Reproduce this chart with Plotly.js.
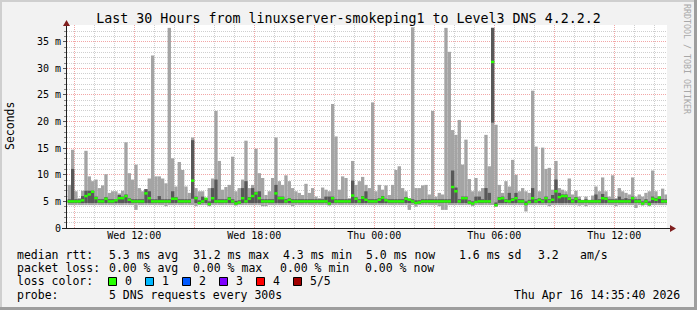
<!DOCTYPE html>
<html><head><meta charset="utf-8">
<script src="https://cdn.plot.ly/plotly-3.0.1.min.js"></script>
<style>html,body{margin:0;padding:0;background:#f2f2f2}#chart{width:697px;height:310px}</style>
</head><body><div id="chart"></div>
<script>
// ---- data (10-minute bins) ----
const binStartUTC = [2026, 3, 15, 8, 40];
const binMinutes = 10;
const pingMax = [
 8.1,14.7,6.9,5.6,7.0,14.5,9.7,8.8,9.1,7.5,
 8.0,10.1,6.6,6.9,6.9,6.5,7.0,16.1,10.3,9.1,
 11.9,7.5,6.9,7.3,9.3,32.4,9.7,9.7,9.3,8.4,
 37.6,13.1,7.8,12.4,10.9,7.8,6.6,17.0,7.5,6.9,
 6.9,5.6,7.5,9.3,22.0,12.6,7.2,7.7,8.1,13.4,
 6.9,7.5,9.1,16.4,7.5,8.1,14.9,10.3,9.4,6.2,
 6.9,9.4,17.0,8.8,8.1,9.9,8.8,7.5,6.9,6.6,
 6.2,8.3,6.6,7.5,5.9,5.6,7.6,7.2,6.9,23.3,
 17.2,7.2,9.7,9.4,5.6,12.6,8.1,8.8,9.6,8.1,
 7.5,23.6,6.9,8.1,7.2,8.0,6.2,8.1,10.9,11.6,
 7.5,6.9,5.6,37.7,7.5,7.5,8.0,8.1,6.3,22.0,
 5.9,6.6,6.3,37.6,33.1,18.4,17.5,20.3,11.9,16.6,
 9.2,6.9,9.4,6.9,7.5,17.5,11.6,37.6,19.4,8.1,
 6.6,8.8,7.8,12.8,10.0,6.9,7.5,6.9,6.6,25.8,
 15.3,6.9,15.1,11.1,11.3,7.2,12.6,7.5,7.2,6.9,
 9.3,6.3,7.0,5.9,5.3,5.9,5.3,6.1,7.8,6.9,
 9.5,6.9,5.9,9.9,5.6,7.5,6.9,6.6,6.3,9.5,
 5.9,6.3,5.9,6.6,6.9,10.8,6.9,5.9,7.4,6.3];
const pingHigh = [
 5.4,11.1,5.4,5.4,6.0,7.0,7.0,7.0,5.9,5.4,
 5.4,5.8,5.4,5.4,5.4,6.2,5.9,6.3,5.6,5.4,
 5.4,5.4,5.4,7.3,6.9,5.4,5.4,6.0,5.4,5.4,
 5.4,6.9,5.8,5.4,5.4,5.4,5.4,16.5,5.9,5.2,
 5.9,5.6,5.0,7.5,9.1,5.4,5.4,5.4,5.8,5.4,
 5.1,5.2,7.5,8.8,5.8,7.5,6.8,6.9,5.4,5.4,
 5.4,5.4,8.1,5.9,5.9,5.4,5.6,5.4,5.4,5.4,
 5.4,5.4,5.4,5.4,5.4,5.4,5.4,5.9,5.9,5.9,
 5.4,5.4,5.4,5.4,5.4,8.9,5.8,5.4,6.0,6.9,
 5.4,5.4,5.4,5.6,6.0,5.5,5.4,5.4,5.4,5.4,
 5.4,5.8,5.5,5.4,5.2,5.2,5.4,5.4,5.4,5.4,
 5.4,5.4,5.4,5.4,5.4,10.8,7.6,5.4,5.9,5.9,
 5.2,5.0,5.9,5.9,5.4,7.5,6.6,37.6,4.8,5.8,
 5.9,5.4,6.6,5.6,6.6,5.4,5.4,5.0,5.3,7.5,
 5.4,5.6,5.4,5.9,5.4,6.2,9.1,6.6,6.3,6.3,
 5.8,5.4,5.8,5.4,5.2,5.4,5.2,5.3,6.3,5.4,
 6.4,5.8,5.4,5.4,5.4,5.9,5.4,5.6,5.4,5.9,
 5.4,5.4,5.0,5.4,5.0,5.9,5.6,5.9,5.4,5.4];
const pingMedian = [
 5.0,5.0,5.0,5.0,5.2,6.0,6.3,6.8,5.6,5.0,
 5.0,5.5,5.0,5.0,5.2,5.6,5.6,6.0,5.3,5.0,
 5.0,5.0,5.0,6.5,5.6,5.0,5.0,5.0,5.0,5.0,
 5.0,5.5,5.5,5.0,5.0,5.0,5.0,8.9,5.6,4.7,
 5.0,5.5,4.5,5.6,5.0,5.0,5.0,5.0,5.5,5.0,
 4.6,4.8,5.6,5.0,5.5,6.0,6.5,5.6,5.0,5.0,
 5.0,5.0,6.5,5.6,5.6,5.0,5.3,5.0,5.0,5.0,
 5.0,5.0,5.0,5.0,5.0,5.0,5.0,5.0,4.6,5.6,
 5.0,5.0,5.0,5.0,5.0,6.1,5.5,5.0,5.7,5.3,
 5.0,5.0,5.0,5.3,5.7,5.2,5.0,5.0,5.0,5.0,
 5.0,5.5,5.3,5.0,4.7,4.8,5.0,5.0,5.0,5.0,
 5.0,5.0,5.0,5.0,5.0,7.7,6.9,5.0,5.6,5.6,
 4.8,4.6,4.9,5.0,5.0,5.0,5.0,31.2,4.3,5.5,
 5.6,5.1,5.0,5.3,5.6,5.0,5.0,4.5,4.9,5.6,
 5.0,5.3,5.0,5.6,5.0,5.3,6.9,5.8,6.0,6.0,
 5.5,5.0,5.5,5.0,5.0,5.0,5.0,5.0,5.0,5.0,
 5.6,5.5,5.0,5.0,5.0,5.0,5.0,5.0,5.0,5.6,
 5.0,5.0,4.6,5.0,4.5,5.5,5.3,5.7,5.0,5.0];
const pingLow = [
 4.7,4.7,4.7,4.7,4.7,4.7,4.7,4.7,4.7,4.7,
 4.7,4.7,4.7,4.7,4.7,4.7,4.7,4.7,4.7,4.7,
 4.7,4.7,4.7,4.7,4.7,4.7,4.7,4.7,4.7,4.7,
 4.7,4.7,4.7,4.7,4.7,4.7,4.7,5.5,4.7,4.5,
 4.7,4.7,4.3,4.7,4.7,4.7,4.7,4.7,4.7,4.7,
 4.4,4.6,4.7,4.7,4.7,4.7,4.7,4.7,4.7,4.7,
 4.7,4.7,4.7,4.7,4.7,4.7,4.7,4.7,4.7,4.7,
 4.7,4.7,4.7,4.7,4.7,4.7,4.7,4.7,4.4,4.7,
 4.7,4.7,4.7,4.7,4.7,4.7,4.7,4.7,4.7,4.7,
 4.7,4.7,4.7,4.7,4.7,4.7,4.7,4.7,4.7,4.7,
 4.7,4.7,4.7,4.7,4.5,4.6,4.7,4.7,4.7,4.7,
 4.7,4.7,4.7,4.7,4.7,4.7,4.7,4.7,4.7,4.7,
 4.6,4.4,4.7,4.7,4.7,4.7,4.7,19.8,4.1,4.7,
 4.7,4.7,4.7,4.7,4.7,4.7,4.7,4.3,4.7,4.7,
 4.7,4.7,4.7,4.7,4.7,4.7,4.7,4.7,4.7,4.7,
 4.7,4.7,4.7,4.7,4.7,4.7,4.7,4.7,4.7,4.7,
 4.7,4.7,4.7,4.7,4.7,4.7,4.7,4.7,4.7,4.7,
 4.7,4.7,4.4,4.7,4.3,4.7,4.7,4.7,4.7,4.7];
const pingMin = [
 4.3,4.3,4.3,4.3,4.3,4.3,4.3,4.3,4.3,4.3,
 4.3,4.3,4.3,4.3,4.3,4.3,4.3,4.3,4.3,4.3,
 3.4,4.3,4.3,4.3,4.3,4.3,4.3,4.3,4.3,4.1,
 4.3,4.3,4.3,4.3,4.3,4.3,4.3,4.3,4.1,4.3,
 4.3,4.3,4.1,4.3,4.3,4.3,4.3,4.3,4.3,4.3,
 4.2,4.3,4.3,4.3,4.3,4.3,4.3,4.3,4.1,4.1,
 4.3,4.3,4.3,4.3,4.3,4.3,4.3,4.1,4.3,4.3,
 4.3,4.3,4.3,4.3,4.3,4.3,4.3,4.3,4.2,4.3,
 4.3,4.3,4.3,4.3,4.3,4.3,4.3,4.3,4.3,4.3,
 4.3,4.3,4.3,4.3,4.3,4.3,4.3,4.3,4.3,4.3,
 4.3,4.3,3.4,4.3,4.0,4.3,4.3,4.3,4.3,4.3,
 4.3,4.1,3.4,3.4,4.3,4.3,4.3,4.3,4.3,4.3,
 4.3,4.1,4.3,4.3,4.3,4.3,4.3,4.3,4.0,4.3,
 4.3,4.3,4.3,4.3,4.3,4.3,4.3,3.1,4.3,4.3,
 4.3,4.3,4.3,4.3,4.1,4.3,4.3,4.3,4.3,4.3,
 4.3,4.3,4.3,4.2,4.3,4.1,4.3,4.3,4.3,4.3,
 4.3,4.3,4.3,4.3,4.1,4.3,4.3,4.3,4.3,4.3,
 3.75,4.3,4.2,4.3,4.1,4.3,4.3,4.3,4.3,4.3];
const lossLabels = ['0','1','2','3','4','5/5'];
const lossColors = ['#26ff00','#00b8ff','#0059ff','#7e00ff','#ff0000','#a10000'];
const hiddenXLabels = ['Wed 09:00','Wed 15:00','Wed 21:00','Thu 03:00','Thu 09:00'];
const yTickVals = [0,5,10,15,20,25,30,35];
const yTickText = ['0','5 m','10 m','15 m','20 m','25 m','30 m','35 m'];
const rttStats = ['median rtt:','5.3 ms avg','31.2 ms max','4.3 ms min','5.0 ms now','1.6 ms sd','3.2','am/s'];
const lossStats = ['packet loss:','0.00 % avg','0.00 % max','0.00 % min','0.00 % now'];
const probeInfo = ['probe:','5 DNS requests every 300s'];
const stampText = 'Thu Apr 16 14:35:40 2026';
const titleText = 'Last 30 Hours from linuxserver-smokeping1 to Level3 DNS 4.2.2.2';

// ---- geometry helpers (pixel -> paper) ----
const W = 697, H = 310, L = 67, R = 30, T = 25, B = 82;
const PW = W - L - R, PH = H - T - B;
const X = p => (p - L) / PW;
const Y = p => (H - B - p) / PH;
const MONO = 'DejaVu Sans Mono, monospace';

const stepMs = binMinutes * 60000;
const t0 = Date.UTC(...binStartUTC);
const times = pingMedian.map((_, i) => t0 + i * stepMs);
const rangeStart = Date.UTC(2026, 3, 15, 8, 38, 6);
const rangeEnd = rangeStart + 30 * 3600000;

const barBase = {type: 'bar', x: times, width: stepMs, offset: 0, hoverinfo: 'skip'};
const traces = [
  Object.assign({}, barBase, {base: pingMin, y: pingMax.map((v, i) => v - pingMin[i]),
    marker: {color: '#a4a4a4', line: {width: 0}}}),
  Object.assign({}, barBase, {base: pingLow, y: pingHigh.map((v, i) => v - pingLow[i]),
    marker: {color: '#585858', line: {width: 0}}}),
  Object.assign({}, barBase, {base: pingMedian.map(v => v - 0.23), y: pingMedian.map(() => 0.46),
    marker: {color: lossColors[0], line: {width: 0}}})
];

const alias = {};
hiddenXLabels.forEach(s => alias[s] = ' ');

const minorGrid = '#cfcfcf', majorGrid = '#f2a6a6';

const ann = [];
function txt(text, px, py, opts) {
  ann.push(Object.assign({text: text, xref: 'paper', yref: 'paper', x: X(px), y: Y(py),
    xanchor: 'left', yanchor: 'middle', showarrow: false, borderpad: 0,
    font: {family: MONO, size: 11.5, color: '#000'}}, opts || {}));
}
const rttX = [16, 108, 192, 282, 365, 458, 537, 579];
rttStats.forEach((s, i) => txt(s, rttX[i], 255));
const lossX = [16, 108, 192, 279, 364];
lossStats.forEach((s, i) => txt(s, lossX[i], 268));
txt('loss color:', 16, 281);
lossLabels.forEach((s, i) => txt(s, 124 + 37 * i, 281));
txt(probeInfo[0], 16, 295);
txt(probeInfo[1], 108, 295);
txt(stampText, 681, 295, {xanchor: 'right'});
txt('Seconds', 10, 126, {textangle: -90, xanchor: 'center'});
txt('RRDTOOL / TOBI OETIKER', 687, 59, {textangle: 90, xanchor: 'center', font: {family: MONO, size: 8.3, color: '#a8a8a8'}});

const shapes = [];
function rect(x0, y0, x1, y1, color, line) {
  shapes.push({type: 'rect', xref: 'paper', yref: 'paper', x0: X(x0), x1: X(x1), y0: Y(y0), y1: Y(y1),
    fillcolor: color, line: line || {width: 0}, layer: 'above'});
}
// frame
rect(0, 0, W, 2, '#cfcfcf');
rect(0, 0, 2, H, '#cfcfcf');
rect(0, H - 3, W, H, '#9e9e9e');
rect(W - 3, 0, W, H, '#9e9e9e');
// loss colour boxes
lossColors.forEach((c, i) => rect(108.5 + 37 * i, 277.5, 116.5 + 37 * i, 285.5, c, {width: 1, color: '#000'}));
// axis lines
shapes.push({type: 'line', xref: 'paper', yref: 'paper', x0: X(66.5), x1: X(66.5), y0: Y(228.5), y1: Y(22), line: {color: '#1f1f1f', width: 1}, layer: 'above'});
shapes.push({type: 'line', xref: 'paper', yref: 'paper', x0: X(62), x1: X(672), y0: Y(228.5), y1: Y(228.5), line: {color: '#1f1f1f', width: 1}, layer: 'above'});
// arrows
function tri(pts) {
  return {type: 'path', xref: 'paper', yref: 'paper', layer: 'above',
    path: 'M' + pts.map(p => X(p[0]) + ',' + Y(p[1])).join(' L') + ' Z',
    fillcolor: '#801f1f', line: {width: 0}};
}
shapes.push(tri([[66.5, 20], [63, 26], [70, 26]]));
shapes.push(tri([[676, 228.5], [670, 225], [670, 232]]));

const layout = {
  width: W, height: H,
  margin: {l: L, r: R, t: T, b: B, pad: 0},
  paper_bgcolor: '#f2f2f2', plot_bgcolor: '#ffffff',
  showlegend: false, barmode: 'overlay', hovermode: false,
  title: {text: titleText, font: {family: MONO, size: 13.3, color: '#000'},
    xref: 'container', x: 0.5, xanchor: 'center', yref: 'container', y: 1 - 18.5 / H, yanchor: 'middle'},
  xaxis: {type: 'date', range: [rangeStart, rangeEnd], fixedrange: true,
    tick0: '2026-04-15 00:00', dtick: 3 * 3600000, tickformat: '%a %H:%M', labelalias: alias,
    tickfont: {family: MONO, size: 10, color: '#000'}, ticks: '', showline: false, zeroline: false,
    showgrid: true, gridcolor: majorGrid, griddash: '1px,1px', gridwidth: 1,
    minor: {dtick: 3600000, tick0: '2026-04-15 00:00', showgrid: true, gridcolor: minorGrid, griddash: '1px,1px', gridwidth: 1, ticks: ''}},
  yaxis: {range: [0, 38.14], fixedrange: true, tickmode: 'array', tickvals: yTickVals, ticktext: yTickText,
    tickfont: {family: MONO, size: 10, color: '#000'}, ticks: 'outside', ticklen: 3, tickcolor: '#555',
    showline: false, zeroline: false,
    showgrid: true, gridcolor: majorGrid, griddash: '1px,1px', gridwidth: 1,
    minor: {tickmode: 'linear', tick0: 0, dtick: 1, showgrid: true, gridcolor: minorGrid, griddash: '1px,1px', gridwidth: 1, ticks: 'outside', ticklen: 2, tickcolor: '#888'}},
  annotations: ann,
  shapes: shapes
};
Plotly.newPlot('chart', traces, layout, {staticPlot: true, displayModeBar: false});
</script></body></html>
